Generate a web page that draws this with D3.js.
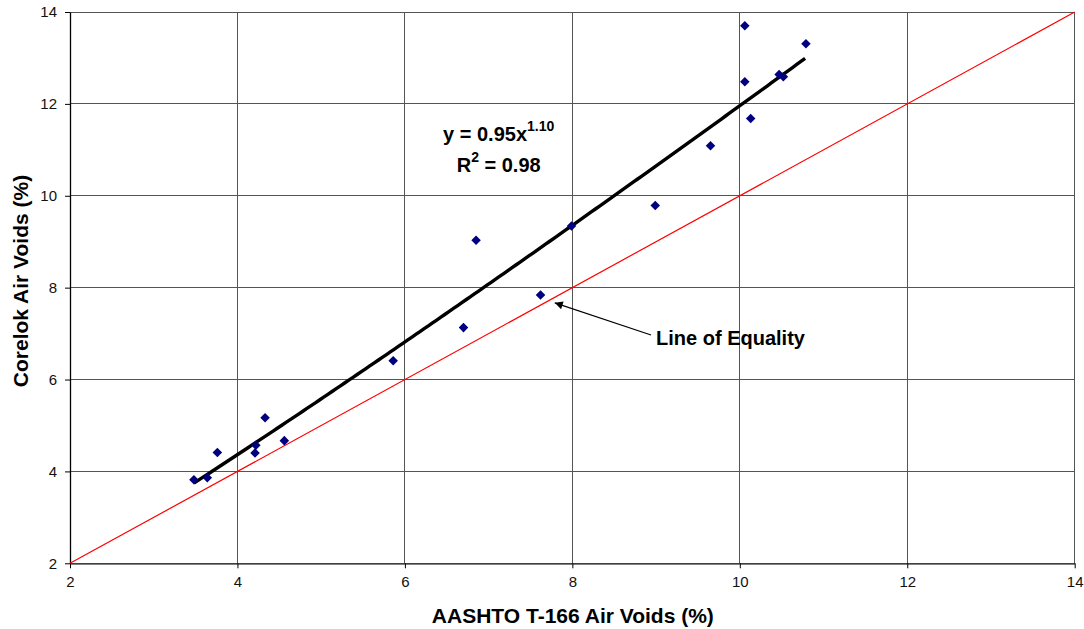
<!DOCTYPE html>
<html>
<head>
<meta charset="utf-8">
<script src="https://cdn.jsdelivr.net/npm/d3@7"></script>
<style>
  body { margin: 0; background: #fff; }
  text { font-family: "Liberation Sans", Arial, sans-serif; }
</style>
</head>
<body>
<svg id="chart" width="1084" height="629"></svg>
<script>
// measured points (AASHTO T-166 vs Corelok)
var aashto  = [3.48, 3.64, 3.76, 4.21, 4.22, 4.33, 4.56, 5.86, 6.70, 6.85, 7.62, 7.99, 8.99, 9.65, 10.06, 10.06, 10.13, 10.47, 10.52, 10.79];
var corelok = [3.82, 3.86, 4.41, 4.40, 4.57, 5.17, 4.67, 6.41, 7.13, 9.03, 7.84, 9.34, 9.79, 11.09, 13.70, 12.48, 11.68, 12.64, 12.59, 13.31];
var xTicks = [2, 4, 6, 8, 10, 12, 14];
var yTicks = [2, 4, 6, 8, 10, 12, 14];
// power trendline y = a * x^b shown on the chart
var fitA = 0.95, fitB = 1.10;

var svg = d3.select("#chart"),
    margin = {top: 12, right: 9.3, bottom: 65.7, left: 70},
    width = +svg.attr("width") - margin.left - margin.right,
    height = +svg.attr("height") - margin.top - margin.bottom;

var x = d3.scaleLinear().domain([2, 14]).range([0, width]);
var y = d3.scaleLinear().domain([2, 14]).range([height, 0]);

var g = svg.append("g").attr("transform", "translate(" + margin.left + "," + margin.top + ")");

// grid
g.append("g").selectAll("line").data(xTicks.slice(1)).enter().append("line")
    .attr("x1", function(d) { return x(d); }).attr("x2", function(d) { return x(d); })
    .attr("y1", 0).attr("y2", height)
    .attr("stroke", "#555").attr("stroke-width", 1).attr("shape-rendering", "crispEdges");
g.append("g").selectAll("line").data(yTicks.slice(1)).enter().append("line")
    .attr("y1", function(d) { return y(d); }).attr("y2", function(d) { return y(d); })
    .attr("x1", 0).attr("x2", width)
    .attr("stroke", "#555").attr("stroke-width", 1).attr("shape-rendering", "crispEdges");

// axes
var xAxis = g.append("g").attr("transform", "translate(0," + height + ")")
    .call(d3.axisBottom(x).tickValues(xTicks).tickSize(5).tickPadding(8).tickSizeOuter(0));
var yAxis = g.append("g")
    .call(d3.axisLeft(y).tickValues(yTicks).tickSize(5).tickPadding(8).tickSizeOuter(0));
[xAxis, yAxis].forEach(function(a) {
    a.select(".domain").attr("stroke", "#000").attr("stroke-width", 1.3);
    a.selectAll(".tick line").attr("stroke", "#000");
    a.selectAll(".tick text").attr("font-size", 15).attr("fill", "#111")
        .style("font-family", "'Liberation Sans', Arial, sans-serif");
});

// line of equality
g.append("line")
    .attr("x1", x(2)).attr("y1", y(2)).attr("x2", x(14)).attr("y2", y(14))
    .attr("stroke", "#ff0000").attr("stroke-width", 1.2);

// power trendline across the data range
var xs = d3.range(d3.min(aashto), d3.max(aashto) + 0.001, 0.05);
g.append("path")
    .datum(xs)
    .attr("fill", "none").attr("stroke", "#000").attr("stroke-width", 3.4)
    .attr("d", d3.line()
        .x(function(d) { return x(d); })
        .y(function(d) { return y(fitA * Math.pow(d, fitB)); }));

// points
var sym = d3.symbol().type(d3.symbolDiamond2).size(58);
g.append("g").selectAll("path").data(aashto).enter().append("path")
    .attr("d", sym)
    .attr("transform", function(d, i) { return "translate(" + x(d) + "," + y(corelok[i]) + ")"; })
    .attr("fill", "#000080");

// equation
var eq = g.append("text").attr("x", x(7.12)).attr("y", y(11.2))
    .attr("text-anchor", "middle").attr("font-size", 20).attr("font-weight", "bold");
eq.append("tspan").text("y = " + fitA.toFixed(2) + "x");
eq.append("tspan").attr("font-size", 14).attr("dy", -10).text(fitB.toFixed(2));
var r2 = g.append("text").attr("x", x(7.12)).attr("y", y(10.52))
    .attr("text-anchor", "middle").attr("font-size", 20).attr("font-weight", "bold");
r2.append("tspan").text("R");
r2.append("tspan").attr("font-size", 14).attr("dy", -10).text("2");
r2.append("tspan").attr("dy", 10).text(" = 0.98");

// arrow annotation
svg.append("defs").append("marker")
    .attr("id", "arrow").attr("viewBox", "0 0 10 10").attr("refX", 10).attr("refY", 5)
    .attr("markerWidth", 12).attr("markerHeight", 8).attr("markerUnits", "userSpaceOnUse")
    .attr("orient", "auto")
    .append("path").attr("d", "M0,0 L10,5 L0,10 z").attr("fill", "#000");
g.append("line")
    .attr("x1", x(8.94)).attr("y1", y(6.97)).attr("x2", x(7.79)).attr("y2", y(7.67))
    .attr("stroke", "#000").attr("stroke-width", 1.2).attr("marker-end", "url(#arrow)");
g.append("text").attr("x", x(9.0)).attr("y", y(6.75))
    .attr("font-size", 20).attr("font-weight", "bold").text("Line of Equality");

// axis titles
svg.append("text").attr("x", margin.left + width / 2 + 0.5).attr("y", 623)
    .attr("text-anchor", "middle").attr("font-size", 21).attr("font-weight", "bold")
    .text("AASHTO T-166 Air Voids (%)");
svg.append("text").attr("transform", "translate(28," + 281 + ") rotate(-90)")
    .attr("text-anchor", "middle").attr("font-size", 21).attr("font-weight", "bold")
    .text("Corelok Air Voids (%)");
</script>
</body>
</html>
